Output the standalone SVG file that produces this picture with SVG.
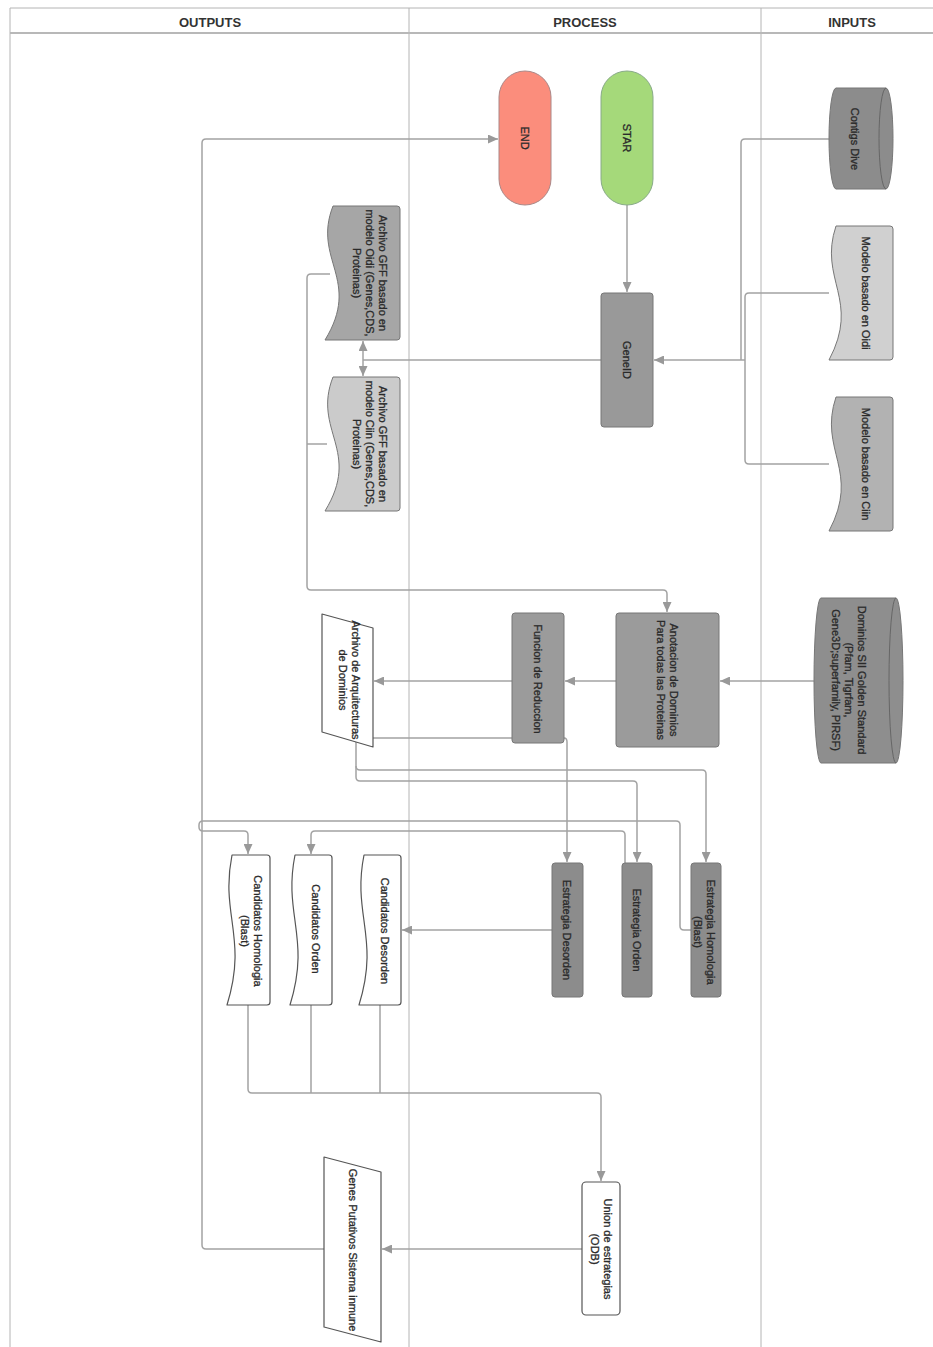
<svg xmlns="http://www.w3.org/2000/svg" width="933" height="1347" viewBox="0 0 933 1347">
<style>
.lane{fill:none;stroke:#b4b4b4;stroke-width:1}
.hdr{font-family:"Liberation Sans",Arial,sans-serif;font-size:13px;font-weight:bold;fill:#333;text-anchor:middle}
.t{font-family:"Liberation Sans",Arial,sans-serif;font-size:11px;fill:#2a2a2a;stroke:#2a2a2a;stroke-width:0.3;text-anchor:middle}
.c{fill:none;stroke:#a3a3a3;stroke-width:1.5}
.ca{fill:none;stroke:#a3a3a3;stroke-width:1.5;marker-end:url(#ah)}
.g{stroke:#777;stroke-width:1}
.w{fill:#fff;stroke:#555;stroke-width:1.2;stroke-linejoin:round}
</style>
<defs>
<marker id="ah" markerUnits="userSpaceOnUse" markerWidth="10" markerHeight="9" refX="10" refY="4.5" orient="auto">
<path d="M0,0 L10,4.5 L0,9 Z" fill="#999"/>
</marker>
</defs>
<rect width="933" height="1347" fill="#fff"/>
<g id="lanes">
<path class="lane" d="M10,8 H933 M10,8 V1347 M409,8 V1347 M761,8 V1347"/>
<path d="M10,33 H933" fill="none" stroke="#b8b8b8" stroke-width="2"/>
<text class="hdr" x="210" y="27">OUTPUTS</text>
<text class="hdr" x="585" y="27">PROCESS</text>
<text class="hdr" x="852" y="27">INPUTS</text>
</g>
<g id="connectors">
<path class="ca" d="M627,205 V292"/>
<path class="c" d="M829,139 H745 Q741,139 741,143 V360"/>
<path class="c" d="M829,293 H749 Q745,293 745,297 V360"/>
<path class="c" d="M829,464 H749 Q745,464 745,460 V360"/>
<path class="ca" d="M745,360 H654"/>
<path class="c" d="M601,360 H363"/>
<path class="ca" d="M363,360 V341"/>
<path class="ca" d="M363,360 V376"/>
<path class="ca" d="M330,274 H311 Q307,274 307,278 V586 Q307,590 311,590 H663 Q667,590 667,594 V612"/>
<path class="c" d="M327,444 H307"/>
<path class="ca" d="M815,681 H720"/>
<path class="ca" d="M616,681 H565"/>
<path class="ca" d="M512,681 H374"/>
<path class="ca" d="M512,738 H360 Q356,738 356,742 V766 Q356,770 360,770 H702 Q706,770 706,774 V862"/>
<path class="ca" d="M356,766 V777 Q356,781 360,781 H633 Q637,781 637,785 V862"/>
<path class="ca" d="M564,738 Q567,738 567,742 V862"/>
<path class="ca" d="M552,930 H402"/>
<path class="ca" d="M625,863 V835 Q625,831 621,831 H315 Q311,831 311,835 V854"/>
<path class="ca" d="M691,930 H684 Q680,930 680,926 V825 Q680,821 676,821 H203 Q199,821 199,825 V827 Q199,831 203,831 H244 Q248,831 248,835 V854"/>
<path class="ca" d="M248,1005 V1089 Q248,1093 252,1093 H597 Q601,1093 601,1097 V1181"/>
<path class="c" d="M311,1005 V1093 M380,1005 V1093"/>
<path class="ca" d="M582,1249 H382"/>
<path class="ca" d="M324,1249 H206 Q202,1249 202,1245 V143 Q202,139 206,139 H498"/>
</g>
<g id="end">
<rect x="499" y="71" width="52" height="134" rx="26" fill="#fb8d7c" stroke="#a88" stroke-width="1"/>
<text class="t" transform="translate(521,138) rotate(90)">END</text>
</g>
<g id="star">
<rect x="601" y="71" width="52" height="134" rx="26" fill="#a5d97a" stroke="#8a8" stroke-width="1"/>
<text class="t" transform="translate(623,138) rotate(90)">STAR</text>
</g>
<g id="contigs">
<path class="g" fill="#8c8c8c" d="M836,88 L886,88 A7,50.5 0 0 1 886,189 L836,189 A7,50.5 0 0 1 836,88 Z"/>
<path fill="none" stroke="#666" d="M886,88 A7,50.5 0 0 0 886,189"/>
<text class="t" transform="translate(851,139) rotate(90)">Contigs Dive</text>
</g>
<g id="modelo-oidi">
<path class="g" fill="#d0d0d0" d="M836,226 H890 Q893,226 893,229 V357 Q893,360 890,360 H829 C861,299.7 818,279.6 836,226 Z"/>
<text class="t" transform="translate(862,293) rotate(90)">Modelo basado en Oidi</text>
</g>
<g id="modelo-ciin">
<path class="g" fill="#b2b2b2" d="M836,397 H890 Q893,397 893,400 V528 Q893,531 890,531 H829 C861,470.7 818,450.6 836,397 Z"/>
<text class="t" transform="translate(862,464) rotate(90)">Modelo basado en Ciin</text>
</g>
<g id="geneid">
<rect class="g" x="601" y="293" width="52" height="134" rx="3" fill="#999"/>
<text class="t" transform="translate(623,360) rotate(90)">GeneID</text>
</g>
<g id="gff-oidi">
<path class="g" fill="#a6a6a6" d="M333,206 H397 Q400,206 400,209 V337 Q400,340 397,340 H325 C362,279.7 312,259.6 333,206 Z"/>
<text class="t" transform="translate(379,273) rotate(90)">Archivo GFF basado en</text>
<text class="t" transform="translate(366,273) rotate(90)">modelo Oidi (Genes,CDS,</text>
<text class="t" transform="translate(353,273) rotate(90)">Proteinas)</text>
</g>
<g id="gff-ciin">
<path class="g" fill="#cbcbcb" d="M333,377 H397 Q400,377 400,380 V508 Q400,511 397,511 H325 C362,450.7 312,430.6 333,377 Z"/>
<text class="t" transform="translate(379,444) rotate(90)">Archivo GFF basado en</text>
<text class="t" transform="translate(366,444) rotate(90)">modelo Ciin (Genes,CDS,</text>
<text class="t" transform="translate(353,444) rotate(90)">Proteinas)</text>
</g>
<g id="dominios">
<path class="g" fill="#8e8e8e" d="M821,598 L896,598 A7,82.5 0 0 1 896,763 L821,763 A7,82.5 0 0 1 821,598 Z"/>
<path fill="none" stroke="#666" d="M896,598 A7,82.5 0 0 0 896,763"/>
<text class="t" transform="translate(858,680) rotate(90)">Dominios SII Golden Standard</text>
<text class="t" transform="translate(845,680) rotate(90)">(Pfam, Tigrfam,</text>
<text class="t" transform="translate(832,680) rotate(90)">Gene3D;superfamily, PIRSF)</text>
</g>
<g id="anotacion">
<rect class="g" x="616" y="613" width="103" height="134" rx="3" fill="#9b9b9b"/>
<text class="t" transform="translate(670,680) rotate(90)">Anotacion de Dominios</text>
<text class="t" transform="translate(657,680) rotate(90)">Para todas las Proteinas</text>
</g>
<g id="funcion">
<rect class="g" x="512" y="613" width="52" height="130" rx="3" fill="#9b9b9b"/>
<text class="t" transform="translate(534,679) rotate(90)">Funcion de Reduccion</text>
</g>
<g id="arquitecturas">
<path class="w" d="M322,614 L373,628 L373,747 L322,732 Z"/>
<text class="t" transform="translate(352,680) rotate(90)">Archivo de Arquitecturas</text>
<text class="t" transform="translate(339,680) rotate(90)">de Dominios</text>
</g>
<g id="est-desorden">
<rect class="g" x="552" y="863" width="31" height="134" rx="3" fill="#8c8c8c"/>
<text class="t" transform="translate(563,930) rotate(90)">Estrategia Desorden</text>
</g>
<g id="est-orden">
<rect class="g" x="622" y="863" width="30" height="134" rx="3" fill="#8c8c8c"/>
<text class="t" transform="translate(633,930) rotate(90)">Estrategia Orden</text>
</g>
<g id="est-homologia">
<rect class="g" x="691" y="863" width="30" height="134" rx="3" fill="#8c8c8c"/>
<text class="t" transform="translate(707,932) rotate(90)">Estrategia Homologia</text>
<text class="t" transform="translate(694,932) rotate(90)">(Blast)</text>
</g>
<g id="cand-desorden">
<path class="w" d="M364,855 H398 Q401,855 401,858 V1002 Q401,1005 398,1005 H359 C380,937.5 352,915 364,855 Z"/>
<text class="t" transform="translate(381,931) rotate(90)">Candidatos Desorden</text>
</g>
<g id="cand-orden">
<path class="w" d="M295,855 H329 Q332,855 332,858 V1002 Q332,1005 329,1005 H290 C311,937.5 283,915 295,855 Z"/>
<text class="t" transform="translate(312,929) rotate(90)">Candidatos Orden</text>
</g>
<g id="cand-homologia">
<path class="w" d="M232,855 H267 Q270,855 270,858 V1002 Q270,1005 267,1005 H227 C248,937.5 220,915 232,855 Z"/>
<text class="t" transform="translate(254,931) rotate(90)">Candidatos Homologia</text>
<text class="t" transform="translate(241,931) rotate(90)">(Blast)</text>
</g>
<g id="union">
<rect x="582" y="1182" width="38" height="133" rx="4" fill="#fff" stroke="#555" stroke-width="1.2"/>
<text class="t" transform="translate(604,1249) rotate(90)">Union de estrategias</text>
<text class="t" transform="translate(591,1249) rotate(90)">(ODB)</text>
</g>
<g id="genes">
<path class="w" d="M324,1157 L381,1172 L381,1342 L324,1327 Z"/>
<text class="t" transform="translate(349,1250) rotate(90)">Genes Putativos Sistema inmune</text>
</g>
</svg>
